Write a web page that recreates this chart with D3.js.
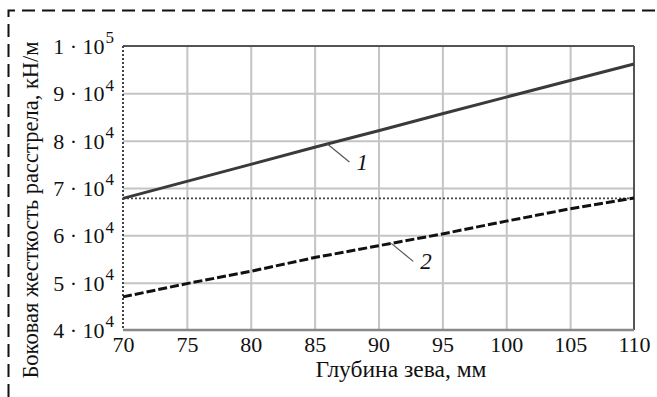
<!DOCTYPE html>
<html>
<head>
<meta charset="utf-8">
<script src="https://d3js.org/d3.v7.min.js"></script>
<style>
  body { margin: 0; background: #fff; }
  svg text { font-family: "Liberation Serif", "DejaVu Serif", serif; fill: #111; }
</style>
</head>
<body>
<div id="chart"></div>
<script>
// data
var depthTicks = [70, 75, 80, 85, 90, 95, 100, 105, 110];
var stiffTicks = [40000, 50000, 60000, 70000, 80000, 90000, 100000];
var depth = [70, 75, 80, 85, 90, 95, 100, 105, 110];
var stiffness1 = [67800, 71400, 75000, 78600, 82100, 85700, 89200, 92700, 96200];
var stiffness2 = [47000, 49800, 52400, 55300, 57800, 60300, 63000, 65600, 67900];
var refLevel = [67800];
var curveLabels = ["1", "2"];
var labelAt = [86, 91]; // depth where leader touches the curve

// set the dimensions and margins of the graph
var W = 657, H = 397;
var margin = { top: 46, right: 23, bottom: 67, left: 123 },
  width = W - margin.left - margin.right,
  height = H - margin.top - margin.bottom;

var root = d3
  .select("#chart")
  .append("svg")
  .attr("width", W)
  .attr("height", H);

// dashed frame round the figure (only top and left visible)
root
  .append("path")
  .attr("d", "M8.5," + H + "V10.5H" + W)
  .attr("fill", "none")
  .attr("stroke", "#111")
  .attr("stroke-width", 2)
  .attr("stroke-dasharray", "13,7");

var svg = root
  .append("g")
  .attr("transform", "translate(" + margin.left + "," + margin.top + ")");

var x = d3.scaleLinear().domain([70, 110]).range([0, width]);
var y = d3.scaleLinear().domain([40000, 100000]).range([height, 0]);

// grid
svg
  .append("g")
  .attr("class", "gridx")
  .attr("transform", "translate(0," + height + ")")
  .call(d3.axisBottom(x).tickValues(depthTicks.slice(1, -1)).tickSize(-height).tickFormat(""))
  .call((g) => g.select(".domain").remove())
  .selectAll("line")
  .attr("stroke", "#c4c4c4")
  .attr("stroke-width", 2);

svg
  .append("g")
  .attr("class", "gridy")
  .call(d3.axisLeft(y).tickValues(stiffTicks.slice(1, -1)).tickSize(-width).tickFormat(""))
  .call((g) => g.select(".domain").remove())
  .selectAll("line")
  .attr("stroke", "#c4c4c4")
  .attr("stroke-width", 2);

// plot borders
svg.append("line").attr("x1", 0).attr("x2", width).attr("y1", 0).attr("y2", 0)
  .attr("stroke", "#555").attr("stroke-width", 2);
svg.append("line").attr("x1", width).attr("x2", width).attr("y1", 0).attr("y2", height)
  .attr("stroke", "#555").attr("stroke-width", 2);
svg.append("line").attr("x1", 0).attr("x2", width).attr("y1", height).attr("y2", height)
  .attr("stroke", "#888").attr("stroke-width", 2.5);
svg.append("line").attr("x1", 0).attr("x2", 0).attr("y1", 0).attr("y2", height)
  .attr("stroke", "#444").attr("stroke-width", 2).attr("stroke-dasharray", "2,2");

// dotted reference level
svg
  .selectAll(".ref")
  .data(refLevel)
  .enter()
  .append("line")
  .attr("x1", 0)
  .attr("x2", width)
  .attr("y1", (d) => y(d))
  .attr("y2", (d) => y(d))
  .attr("stroke", "#444")
  .attr("stroke-width", 1.6)
  .attr("stroke-dasharray", "2,2");

// X axis labels
svg
  .append("g")
  .attr("transform", "translate(0," + height + ")")
  .call(d3.axisBottom(x).tickValues(depthTicks).tickSize(0).tickPadding(6))
  .call((g) => g.select(".domain").remove())
  .selectAll("text")
  .style("font-size", "22px")
  .attr("fill", "#111");

// Y axis labels as a * 10^n
var yAxis = svg
  .append("g")
  .call(d3.axisLeft(y).tickValues(stiffTicks).tickSize(0).tickPadding(9).tickFormat(""))
  .call((g) => g.select(".domain").remove());

yAxis.selectAll(".tick text").each(function (d) {
  var p = Math.floor(Math.log10(d));
  var m = Math.round(d / Math.pow(10, p));
  var t = d3.select(this).style("font-size", "22px").attr("dy", "0.34em");
  t.append("tspan").text(m + " \u00b7 10");
  t.append("tspan").attr("dy", "-0.62em").attr("dx", "1").style("font-size", "17px").text(p);
});

// curves
var line = d3
  .line()
  .x((d, i) => x(depth[i]))
  .y((d) => y(d));

svg
  .append("path")
  .datum(stiffness1)
  .attr("d", line)
  .attr("fill", "none")
  .attr("stroke", "#3a3a3a")
  .attr("stroke-width", 3);

svg
  .append("path")
  .datum(stiffness2)
  .attr("d", line)
  .attr("fill", "none")
  .attr("stroke", "#111")
  .attr("stroke-width", 3)
  .attr("stroke-dasharray", "9,3");

// curve numbers with leaders
var series = [stiffness1, stiffness2];
var interp = function (s, xv) {
  return d3.scaleLinear().domain(depth).range(s)(xv);
};
curveLabels.forEach(function (lab, i) {
  var px = x(labelAt[i]);
  var py = y(interp(series[i], labelAt[i]));
  svg
    .append("line")
    .attr("x1", px)
    .attr("y1", py)
    .attr("x2", px + 22)
    .attr("y2", py + 18)
    .attr("stroke", "#555")
    .attr("stroke-width", 1.2);
  svg
    .append("text")
    .attr("x", px + 29)
    .attr("y", py + 26)
    .style("font-size", "23px")
    .style("font-style", "italic")
    .text(lab);
});

// axis titles
root
  .append("text")
  .attr("x", 401)
  .attr("y", 377)
  .attr("text-anchor", "middle")
  .style("font-size", "23.5px")
  .text("Глубина зева, мм");

root
  .append("text")
  .attr("transform", "translate(38,210) rotate(-90)")
  .attr("text-anchor", "middle")
  .style("font-size", "22.5px")
  .text("Боковая жесткость расстрела, кН/м");
</script>
</body>
</html>
